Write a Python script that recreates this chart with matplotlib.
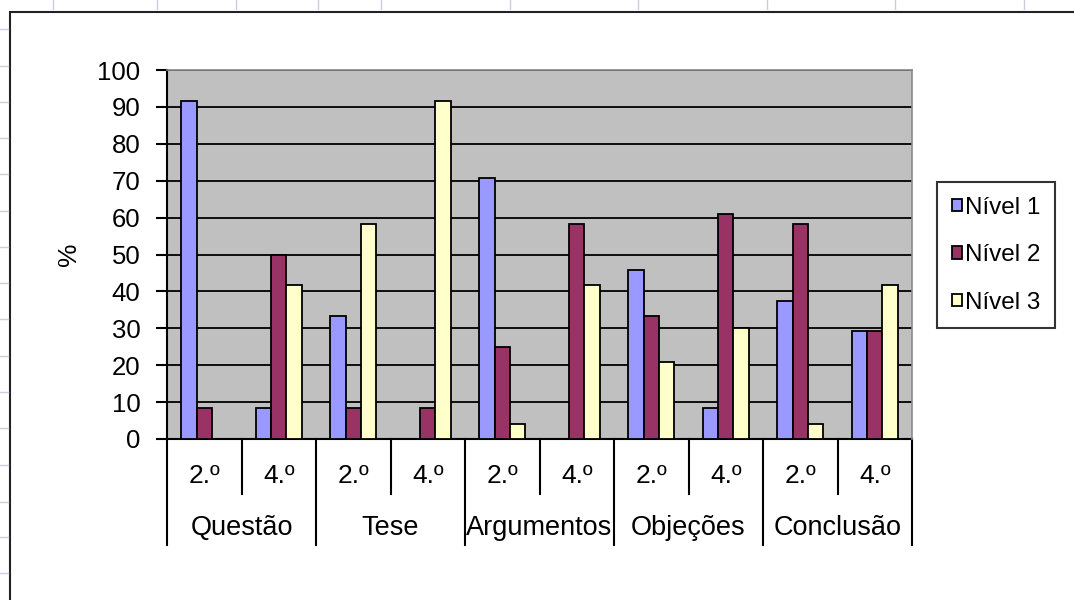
import numpy as np
import matplotlib
matplotlib.use("Agg")
import matplotlib.pyplot as plt
from matplotlib.patches import Rectangle, Patch
from matplotlib.transforms import blended_transform_factory

plt.rcParams['font.family'] = ['Liberation Sans', 'DejaVu Sans']

# data (percentages)
groups = ['Questão', 'Tese', 'Argumentos', 'Objeções', 'Conclusão']
years = ['2.º', '4.º']
series_names = ['Nível 1', 'Nível 2', 'Nível 3']
nivel1 = [91.7, 8.3, 33.3, 0, 70.8, 0, 45.8, 8.3, 37.5, 29.2]
nivel2 = [8.3, 50.0, 8.3, 8.3, 25.0, 58.3, 33.3, 61.0, 58.3, 29.2]
nivel3 = [0, 41.7, 58.3, 91.7, 4.2, 41.7, 20.8, 30.0, 4.2, 41.7]
colors = ['#9999FF', '#993366', '#FFFFCC']
yticks = list(range(0, 101, 10))

W, H = 1074, 600
fig = plt.figure(figsize=(W / 100, H / 100), dpi=100)

# spreadsheet grid marks peeking out around the chart frame
col_marks = [53, 157, 236, 318, 381, 510, 638, 767, 895, 1024]
row_marks = [29, 66, 102, 138, 174, 211, 247, 283, 319, 356, 392, 428, 465, 502, 537, 573]
for x in col_marks:
    fig.add_artist(plt.Line2D([x / W, x / W], [1, 1 - 9 / H], color='#c8cfe0', lw=1))
for y in row_marks:
    fig.add_artist(plt.Line2D([0, 8 / W], [1 - y / H, 1 - y / H], color='#c8cfe0', lw=1))
fig.add_artist(Rectangle((10 / W, -0.1), 1.2, 1.1 - 12 / H, transform=fig.transFigure,
                         fill=False, edgecolor='#222222', lw=1.5))

ax = fig.add_axes([167 / W, 1 - 439 / H, (912 - 167) / W, (439 - 70) / H])
ax.set_facecolor('#C0C0C0')

n = len(nivel1)
x = np.arange(n)
w = 0.205
for k, (vals, c) in enumerate(zip([nivel1, nivel2, nivel3], colors)):
    ax.bar(x + (k - 1) * w, vals, w, color=c, edgecolor='black', linewidth=1.3, zorder=3)

ax.set_xlim(-0.5, n - 0.5)
ax.set_ylim(0, 100)
ax.set_yticks(yticks)
ax.set_yticklabels([str(t) for t in yticks], fontsize=18.5)
ax.tick_params(axis='y', length=8, width=1.5, pad=11, direction='out')
ax.set_xticks([])
ax.set_axisbelow(True)
ax.yaxis.grid(True, color='black', lw=1.3)

for s in ['left', 'bottom']:
    ax.spines[s].set_color('black')
    ax.spines[s].set_linewidth(1.5)
for s in ['top', 'right']:
    ax.spines[s].set_color('#8a8a8a')
    ax.spines[s].set_linewidth(1.2)
    ax.spines[s].set_zorder(3.5)

ax.set_ylabel('%', fontsize=19, labelpad=12)

# two-level category axis
tr = blended_transform_factory(ax.transData, ax.transAxes)
ax_h = 439 - 70
inner_end = -(494 - 439) / ax_h
outer_end = -(545 - 439) / ax_h
for i in range(n):
    ax.text(i, -(476 - 439) / ax_h, years[i % 2], transform=tr, ha='center', va='center', fontsize=19)
for gi, g in enumerate(groups):
    ax.text(2 * gi + 0.5, -(528 - 439) / ax_h, g, transform=tr, ha='center', va='center', fontsize=19.5)
for b in np.arange(-0.5, n, 1.0):
    end = outer_end if int(b + 0.5) % 2 == 0 else inner_end
    ax.plot([b, b], [0, end], transform=tr, color='black', lw=1.5, clip_on=False)

handles = [Patch(facecolor=c, edgecolor='black', linewidth=1.3) for c in colors]
leg = fig.legend(handles, series_names, loc='upper left',
                 bbox_to_anchor=(937 / W, 1 - 182 / H), fontsize=17.5,
                 frameon=True, fancybox=False, edgecolor='black',
                 handlelength=0.42, handleheight=0.42, handletextpad=0.12,
                 labelspacing=1.05, borderpad=0.6, borderaxespad=0)
leg.get_frame().set_linewidth(1.5)

fig.savefig('out.png', dpi=100)
